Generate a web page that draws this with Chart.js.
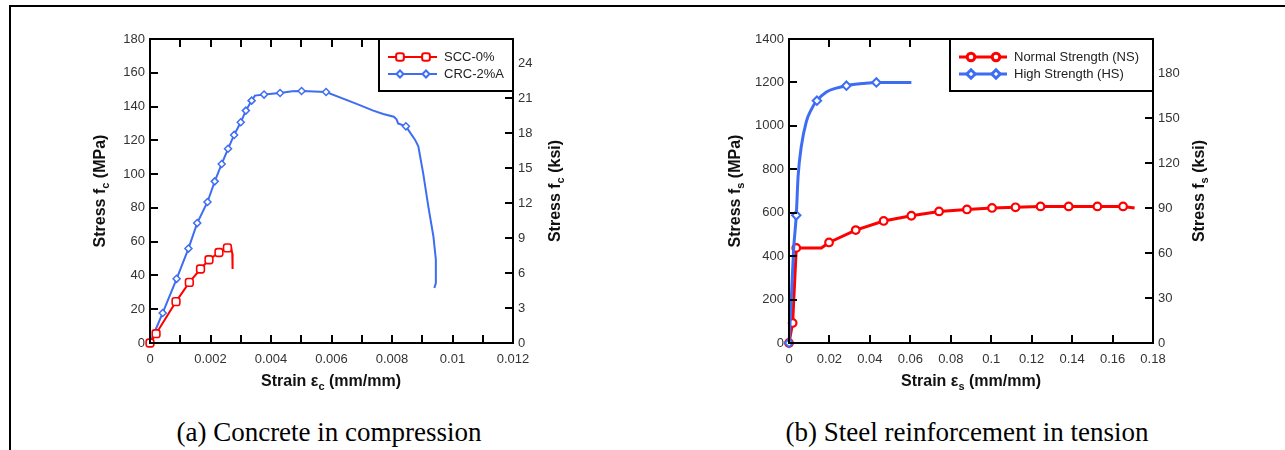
<!DOCTYPE html>
<html>
<head>
<meta charset="utf-8">
<title>Stress-strain curves</title>
<script src="https://cdn.jsdelivr.net/npm/chart.js@4.4.1/dist/chart.umd.min.js"></script>
<style>
  body { margin: 0; background: #fff; }
  #fig { position: relative; width: 1285px; height: 450px; overflow: hidden; background: #fff; }
  #frame { position: absolute; left: 9px; top: 5px; width: 1300px; height: 470px; border-top: 2px solid #000; border-left: 2px solid #000; }
  canvas { position: absolute; top: 0; }
  .cap { position: absolute; top: 417px; width: 640px; height: 30px; line-height: 30px; text-align: center; white-space: nowrap;
         font-family: 'Liberation Serif', 'Times New Roman', serif; font-size: 27px; color: #000; }
</style>
</head>
<body>
<div id="fig">
  <div id="frame"></div>
  <canvas id="concrete" width="640" height="400" style="left:0"></canvas>
  <canvas id="steel" width="645" height="400" style="left:640px"></canvas>
  <div class="cap" style="left:9px">(a) Concrete in compression</div>
  <div class="cap" style="left:647px">(b) Steel reinforcement in tension</div>
</div>
<script>
const MPA_PER_KSI = 6.894757;

// (a) concrete in compression
const sccStrain = [0, 0.0002, 0.00086, 0.0013, 0.00167, 0.00195, 0.00228, 0.00256, 0.00268, 0.00272, 0.00273];
const sccStress = [0, 5.5, 24.5, 35.9, 43.8, 49.3, 53.6, 56.3, 56.8, 53, 43.8];
const sccMarks = [0, 1, 2, 3, 4, 5, 6, 7];

const crcStrain = [0, 0.00042, 0.00088, 0.00127, 0.00156, 0.0019, 0.00214, 0.00237, 0.00258, 0.00278,
  0.003, 0.00317, 0.00336, 0.00347, 0.00377, 0.0043, 0.0047, 0.00501, 0.00582, 0.00683,
  0.00738, 0.00771, 0.00806, 0.00815, 0.0082, 0.00846, 0.00876, 0.00887, 0.00903, 0.0092,
  0.00937, 0.00945, 0.00945, 0.0094];
const crcStress = [0, 17.8, 38, 55.9, 71, 83.5, 95.7, 106, 115, 123.2,
  130.7, 137.6, 143.5, 146.5, 147.1, 148, 149, 149.2, 148.6, 141.6,
  137.6, 135.6, 134, 132.5, 130, 128.3, 120.4, 116.5, 100.6, 80.9,
  63, 49.3, 35.5, 32.6];
const crcMarks = [0, 1, 2, 3, 4, 5, 6, 7, 8, 9, 10, 11, 12, 14, 15, 17, 18, 25];

const concStrainTicks = [0, 0.001, 0.002, 0.003, 0.004, 0.005, 0.006, 0.007, 0.008, 0.009, 0.01, 0.011, 0.012];
const concStrainLabels = ['0', '', '0.002', '', '0.004', '', '0.006', '', '0.008', '', '0.01', '', '0.012'];
const concStressTicks = [0, 20, 40, 60, 80, 100, 120, 140, 160, 180];
const concKsiTicks = [0, 3, 6, 9, 12, 15, 18, 21, 24];

// (b) steel reinforcement in tension
const nsStrain = [0, 0.0018, 0.0036, 0.016, 0.0198, 0.033, 0.0468, 0.0605, 0.0742, 0.088, 0.1004, 0.112, 0.1244, 0.1383, 0.1525, 0.1652, 0.1709];
const nsStress = [0, 92, 438, 438, 463, 520, 562, 586, 606, 615, 622, 625, 629, 629, 629, 629, 622];
const nsMarks = [0, 1, 2, 4, 5, 6, 7, 8, 9, 10, 11, 12, 13, 14, 15];

const hsStrain = [0, 0.0012, 0.0023, 0.0036, 0.0045, 0.0061, 0.0086, 0.011, 0.0138, 0.0185, 0.0234, 0.0284, 0.0366, 0.0432, 0.0605];
const hsStress = [0, 215, 434, 588, 767, 906, 1021, 1075, 1116, 1156, 1174, 1185, 1195, 1200, 1200];
const hsMarks = [0, 3, 8, 11, 13];

const steelStrainTicks = [0, 0.02, 0.04, 0.06, 0.08, 0.1, 0.12, 0.14, 0.16, 0.18];
const steelStrainLabels = ['0', '0.02', '0.04', '0.06', '0.08', '0.1', '0.12', '0.14', '0.16', '0.18'];
const steelStressTicks = [0, 200, 400, 600, 800, 1000, 1200, 1400];
const steelKsiTicks = [0, 30, 60, 90, 120, 150, 180];

const RED = '#ff0000';
const BLUE = '#3d6df2';

Chart.defaults.font.family = "'Liberation Sans', Arial, sans-serif";
Chart.defaults.font.size = 13;
Chart.defaults.color = '#333';

function pts(xs, ys) {
  return xs.map((x, i) => ({ x: x, y: ys[i] }));
}

function last(arr) {
  return arr[arr.length - 1];
}

function setTicks(list) {
  return scale => { scale.ticks = list.map(v => ({ value: v })); };
}

// axis title with a subscript letter
function drawTitle(ctx, t) {
  const main = "bold 16px 'Liberation Sans', Arial, sans-serif";
  const sub = "bold 11px 'Liberation Sans', Arial, sans-serif";
  ctx.save();
  ctx.translate(t.x, t.y);
  if (t.rot) ctx.rotate(-Math.PI / 2);
  let w = 0;
  t.parts.forEach(p => { ctx.font = p[1] ? sub : main; w += ctx.measureText(p[0]).width; });
  let cx = -w / 2;
  ctx.fillStyle = '#111';
  ctx.textBaseline = 'middle';
  ctx.textAlign = 'left';
  t.parts.forEach(p => {
    ctx.font = p[1] ? sub : main;
    ctx.fillText(p[0], cx, p[1] ? 5 : 0);
    cx += ctx.measureText(p[0]).width;
  });
  ctx.restore();
}

function framePlugin(cfg) {
  return {
    id: 'framePlugin',
    afterDraw(chart) {
      const ctx = chart.ctx;
      const a = chart.chartArea;
      const L = a.left, R = a.right, T = a.top, B = a.bottom;
      const len = 8;
      const xMax = last(cfg.xTicks), yMax = last(cfg.yTicks), kMax = yMax / MPA_PER_KSI;

      ctx.save();
      ctx.strokeStyle = '#000';
      ctx.lineWidth = 2;
      ctx.strokeRect(L, T, R - L, B - T);

      // inward tick marks: bottom/top strain, left MPa, right ksi
      ctx.beginPath();
      cfg.xTicks.forEach(v => {
        const p = Math.round(L + (v / xMax) * (R - L));
        ctx.moveTo(p, B); ctx.lineTo(p, B - len);
        ctx.moveTo(p, T); ctx.lineTo(p, T + len);
      });
      cfg.yTicks.forEach(v => {
        const p = Math.round(B - (v / yMax) * (B - T));
        ctx.moveTo(L, p); ctx.lineTo(L + len, p);
      });
      cfg.ksiTicks.forEach(v => {
        const p = Math.round(B - (v / kMax) * (B - T));
        ctx.moveTo(R, p); ctx.lineTo(R - len, p);
      });
      ctx.stroke();

      // legend box in the top right corner
      const lg = cfg.legend;
      const bx = R - lg.width;
      ctx.fillStyle = '#fff';
      ctx.fillRect(bx, T, lg.width, lg.height);
      ctx.strokeRect(bx, T, lg.width, lg.height);
      cfg.datasets.forEach((ds, i) => {
        const y = T + lg.rows[i];
        ctx.strokeStyle = ds.borderColor;
        ctx.lineWidth = ds.borderWidth;
        ctx.beginPath();
        ctx.moveTo(bx + lg.line[0], y);
        ctx.lineTo(bx + lg.line[1], y);
        ctx.stroke();
        ctx.fillStyle = '#fff';
        lg.marks.forEach(mx => {
          Chart.helpers.drawPoint(ctx, { pointStyle: ds.pointStyle, radius: ds.markSize, borderWidth: ds.pointBorderWidth, rotation: 0 }, bx + mx, y);
        });
        ctx.fillStyle = '#222';
        ctx.font = "13px 'Liberation Sans', Arial, sans-serif";
        ctx.textBaseline = 'middle';
        ctx.textAlign = 'left';
        ctx.fillText(ds.label, bx + lg.textX, y);
      });
      ctx.restore();
      cfg.titles.forEach(t => drawTitle(ctx, t));
    }
  };
}

function markRadius(marks, r) {
  return c => marks.includes(c.dataIndex) ? r : 0;
}

function makeChart(id, cfg) {
  return new Chart(document.getElementById(id), {
    type: 'line',
    data: { datasets: cfg.datasets },
    options: {
      responsive: false,
      animation: false,
      events: [],
      layout: { padding: { top: 39, left: 0, right: 0, bottom: 0 } },
      plugins: {
        legend: { display: false },
        tooltip: { enabled: false }
      },
      scales: {
        x: {
          type: 'linear', min: 0, max: last(cfg.xTicks),
          afterBuildTicks: setTicks(cfg.xTicks),
          afterFit: s => { s.height = 57; },
          grid: { display: false, drawTicks: false }, border: { display: false },
          ticks: { autoSkip: false, maxRotation: 0, padding: 9, callback: (v, i) => cfg.xLabels[i] }
        },
        y: {
          type: 'linear', position: 'left', min: 0, max: last(cfg.yTicks),
          afterBuildTicks: setTicks(cfg.yTicks),
          afterFit: s => { s.width = cfg.leftW; },
          grid: { display: false, drawTicks: false }, border: { display: false },
          ticks: { padding: 5, callback: v => String(v) }
        },
        y1: {
          type: 'linear', position: 'right', min: 0, max: last(cfg.yTicks) / MPA_PER_KSI,
          afterBuildTicks: setTicks(cfg.ksiTicks),
          afterFit: s => { s.width = cfg.rightW; },
          grid: { display: false, drawTicks: false }, border: { display: false },
          ticks: { padding: 5, callback: v => String(v) }
        }
      }
    },
    plugins: [framePlugin(cfg)]
  });
}

makeChart('concrete', {
  datasets: [
    { label: 'SCC-0%', data: pts(sccStrain, sccStress), borderColor: RED, borderWidth: 2, clip: false,
      pointStyle: 'rectRounded', markSize: 4.5, pointRadius: markRadius(sccMarks, 4.5), pointHoverRadius: 0,
      pointBorderWidth: 1.6, pointBackgroundColor: '#fff', pointBorderColor: RED, order: 0 },
    { label: 'CRC-2%A', data: pts(crcStrain, crcStress), borderColor: BLUE, borderWidth: 2, clip: false,
      pointStyle: 'rectRot', markSize: 3.5, pointRadius: markRadius(crcMarks, 3.5), pointHoverRadius: 0,
      pointBorderWidth: 1.5, pointBackgroundColor: '#fff', pointBorderColor: BLUE, order: 1 }
  ],
  xTicks: concStrainTicks, xLabels: concStrainLabels,
  yTicks: concStressTicks, ksiTicks: concKsiTicks,
  leftW: 150, rightW: 127,
  legend: { width: 134, height: 52, rows: [18, 35], line: [9, 58], marks: [21, 47], textX: 65 },
  titles: [
    { parts: [['Stress f', false], ['c', true], [' (MPa)', false]], x: 101, y: 191, rot: true },
    { parts: [['Stress f', false], ['c', true], [' (ksi)', false]], x: 556, y: 191, rot: true },
    { parts: [['Strain ε', false], ['c', true], [' (mm/mm)', false]], x: 331, y: 382, rot: false }
  ]
});

makeChart('steel', {
  datasets: [
    { label: 'Normal Strength (NS)', data: pts(nsStrain, nsStress), borderColor: RED, borderWidth: 3, clip: false,
      pointStyle: 'circle', markSize: 3.8, pointRadius: markRadius(nsMarks, 3.8), pointHoverRadius: 0,
      pointBorderWidth: 2.2, pointBackgroundColor: '#fff', pointBorderColor: RED, order: 1 },
    { label: 'High Strength (HS)', data: pts(hsStrain, hsStress), borderColor: BLUE, borderWidth: 3, clip: false,
      cubicInterpolationMode: 'monotone',
      pointStyle: 'rectRot', markSize: 4.2, pointRadius: markRadius(hsMarks, 4.2), pointHoverRadius: 0,
      pointBorderWidth: 2, pointBackgroundColor: '#fff', pointBorderColor: BLUE, order: 0 }
  ],
  xTicks: steelStrainTicks, xLabels: steelStrainLabels,
  yTicks: steelStressTicks, ksiTicks: steelKsiTicks,
  leftW: 149, rightW: 132,
  legend: { width: 203, height: 52, rows: [18, 35], line: [9, 57], marks: [21, 46], textX: 64 },
  titles: [
    { parts: [['Stress f', false], ['s', true], [' (MPa)', false]], x: 96, y: 191, rot: true },
    { parts: [['Stress f', false], ['s', true], [' (ksi)', false]], x: 560, y: 191, rot: true },
    { parts: [['Strain ε', false], ['s', true], [' (mm/mm)', false]], x: 331, y: 382, rot: false }
  ]
});
</script>
</body>
</html>
